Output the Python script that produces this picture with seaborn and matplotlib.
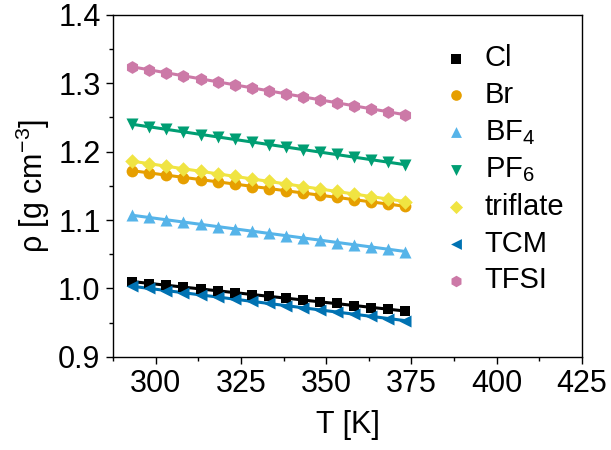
import numpy as np
import pandas as pd
import matplotlib
matplotlib.use("Agg")
import matplotlib.pyplot as plt
import seaborn as sns

# Temperature grid [K]
temperature = [293.15, 298.15, 303.15, 308.15, 313.15, 318.15, 323.15, 328.15, 333.15,
               338.15, 343.15, 348.15, 353.15, 358.15, 363.15, 368.15, 373.15]

# Densities [g cm^-3] for each anion
rho_cl = [1.010, 1.007, 1.005, 1.002, 0.999, 0.997, 0.994, 0.991, 0.989,
          0.986, 0.983, 0.980, 0.978, 0.975, 0.972, 0.970, 0.967]
rho_br = [1.172, 1.169, 1.166, 1.162, 1.159, 1.156, 1.153, 1.149, 1.146,
          1.143, 1.140, 1.136, 1.133, 1.130, 1.127, 1.123, 1.120]
rho_bf4 = [1.107, 1.104, 1.100, 1.097, 1.094, 1.090, 1.087, 1.084, 1.081,
           1.077, 1.074, 1.071, 1.067, 1.064, 1.061, 1.057, 1.054]
rho_pf6 = [1.240, 1.236, 1.233, 1.229, 1.225, 1.222, 1.218, 1.214, 1.210,
           1.207, 1.203, 1.199, 1.196, 1.192, 1.188, 1.185, 1.181]
rho_triflate = [1.186, 1.182, 1.179, 1.175, 1.171, 1.168, 1.164, 1.160, 1.157,
                1.153, 1.149, 1.145, 1.142, 1.138, 1.134, 1.131, 1.127]
rho_tcm = [1.003, 1.000, 0.997, 0.994, 0.991, 0.987, 0.984, 0.981, 0.978,
           0.975, 0.972, 0.969, 0.966, 0.962, 0.959, 0.956, 0.953]
rho_tfsi = [1.324, 1.320, 1.315, 1.311, 1.306, 1.302, 1.298, 1.293, 1.289,
            1.285, 1.280, 1.276, 1.271, 1.267, 1.263, 1.258, 1.254]

anions = ["Cl", "Br", r"BF$_4$", r"PF$_6$", "triflate", "TCM", "TFSI"]
series = [rho_cl, rho_br, rho_bf4, rho_pf6, rho_triflate, rho_tcm, rho_tfsi]
colors = ["#000000", "#E69F00", "#56B4E9", "#009E73", "#F0E442", "#0072B2", "#CC79A7"]
markers = ["s", "o", "^", "v", "D", "<", "h"]
marker_sizes = [58, 72, 75, 75, 55, 75, 85]

df = pd.DataFrame({
    "T": np.tile(temperature, len(anions)),
    "rho": np.concatenate(series),
    "anion": np.repeat(anions, len(temperature)),
})

sns.set_theme(style="ticks")
plt.rcParams["font.family"] = ["Liberation Sans", "DejaVu Sans"]
plt.rcParams["mathtext.fontset"] = "custom"
plt.rcParams["mathtext.rm"] = "Liberation Sans"
plt.rcParams["mathtext.it"] = "Liberation Sans:italic"
for key in ["text.color", "axes.labelcolor", "xtick.color", "ytick.color", "axes.edgecolor"]:
    plt.rcParams[key] = "black"

fig = plt.figure(figsize=(6.11, 4.5), dpi=100)
ax = fig.add_axes([0.185, 0.207, 0.7675, 0.76])

for name, col, mk, ms in zip(anions, colors, markers, marker_sizes):
    sub = df[df["anion"] == name]
    # linear fit through each series
    sns.regplot(data=sub, x="T", y="rho", ax=ax, ci=None, scatter=False,
                color=col, line_kws={"lw": 2.2, "zorder": 2})
    sns.scatterplot(data=sub, x="T", y="rho", ax=ax, color=col, marker=mk,
                    s=ms, linewidth=0, label=name, zorder=3)

ax.set_xlim(287.5, 425)
ax.set_ylim(0.9, 1.4)
ax.set_xticks([300, 325, 350, 375, 400, 425])
ax.set_xticks(np.arange(287.5, 425.1, 12.5), minor=True)
ax.set_yticks([0.9, 1.0, 1.1, 1.2, 1.3, 1.4])
ax.set_yticks(np.arange(0.95, 1.4, 0.1), minor=True)
ax.set_yticklabels([f"{v:.1f}" for v in [0.9, 1.0, 1.1, 1.2, 1.3, 1.4]])

ax.tick_params(axis="both", which="major", direction="out", length=5, width=1,
               labelsize=22, pad=4)
ax.tick_params(axis="both", which="minor", direction="out", length=3, width=1)
for sp in ax.spines.values():
    sp.set_linewidth(1)

ax.set_xlabel("T [K]", fontsize=22, labelpad=8)
ax.set_ylabel(r"ρ [g cm$^{-3}$]", fontsize=22, labelpad=4)

leg = ax.legend(loc="upper right", bbox_to_anchor=(1.0, 0.965), frameon=False,
                fontsize=21, handletextpad=0.25, labelspacing=0.3,
                markerscale=0.9, borderaxespad=0.2, handlelength=1.5)

fig.savefig("out.png", dpi=100)
